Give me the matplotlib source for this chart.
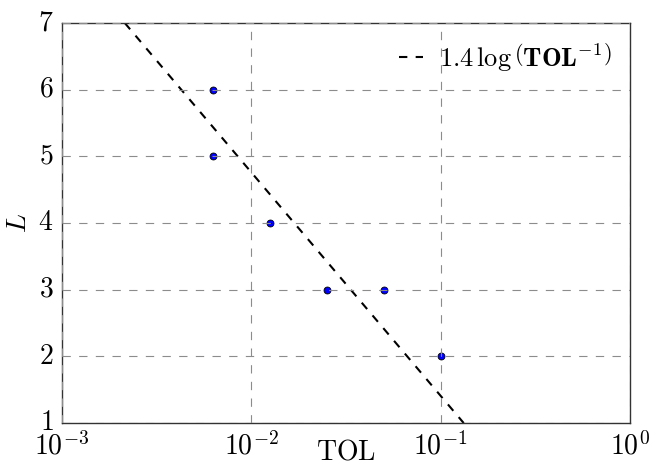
import matplotlib
matplotlib.use("Agg")
import matplotlib.pyplot as plt
import numpy as np
from matplotlib.ticker import FuncFormatter

# data
tol = [0.1, 0.05, 0.025, 0.0125, 0.00625, 0.00625]
levels = [2, 3, 3, 4, 5, 6]

# fitted line, two ends (straight on log x)
tol_fit = [0.00215, 0.1324]
levels_fit = [7.0, 1.0]

plt.style.use('classic')
plt.rcParams['mathtext.fontset'] = 'cm'
plt.rcParams['font.family'] = 'serif'
plt.rcParams['font.serif'] = ['cmr10']
plt.rcParams['axes.formatter.use_mathtext'] = True

fig = plt.figure(figsize=(6.57, 4.68), dpi=100)
ax = fig.add_axes([0.094, 0.096, 0.865, 0.855])

ax.plot(tol_fit, levels_fit, 'k--', lw=1.5,
        label=r'$1.4\,\log\left(\mathbf{TOL}^{-1}\right)$')
ax.plot(tol, levels, 'o', color='b', mec='k', ms=5, mew=0.6)

ax.set_xscale('log')
ax.set_xlim(1e-3, 1e0)
ax.set_ylim(1, 7)
ax.yaxis.set_major_formatter(FuncFormatter(lambda v, p: r'$%d$' % v))

ax.grid(True, color='0.55', linestyle='--', lw=0.8)
ax.tick_params(which='both', length=0, labelsize=20, pad=6)
ax.set_xlabel(r'$\mathrm{TOL}$', fontsize=20, labelpad=-15)
ax.set_ylabel(r'$L$', fontsize=20, labelpad=4)
for s in ax.spines.values():
    s.set_color('0.2')

ax.legend(loc='upper right', frameon=False, fontsize=19, handlelength=0.9,
          handletextpad=0.6, numpoints=1, borderaxespad=0.3)

fig.savefig('out.png', dpi=100)
